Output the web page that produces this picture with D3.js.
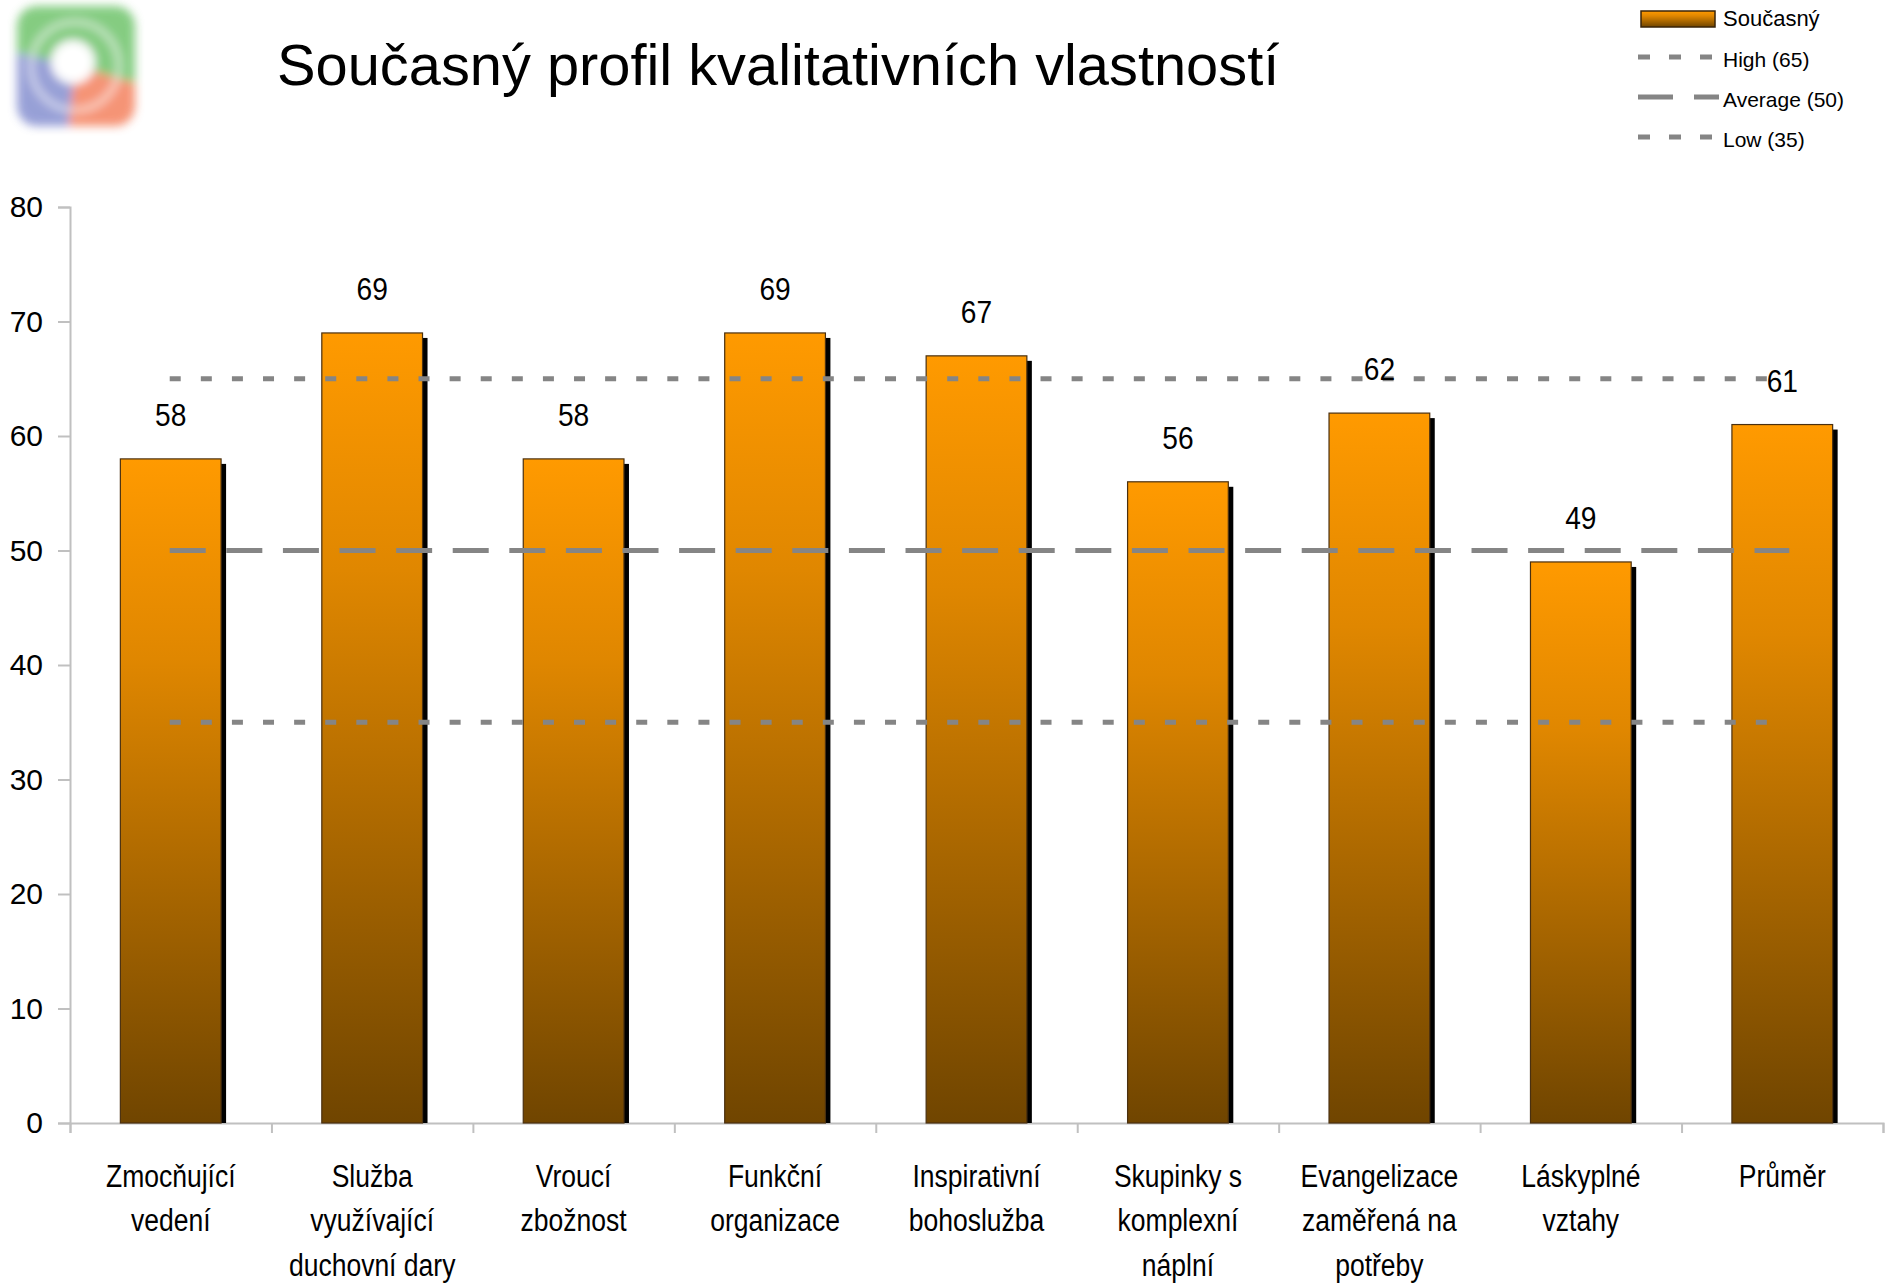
<!DOCTYPE html>
<html>
<head>
<meta charset="utf-8">
<script src="https://cdn.jsdelivr.net/npm/d3@7"></script>
<style>
  body { margin: 0; background: #fff; }
  svg { display: block; }
</style>
</head>
<body>
<div id="chart"></div>
<script>
// chart data
const categories = [
  ['Zmocňující', 'vedení'],
  ['Služba', 'využívající', 'duchovní dary'],
  ['Vroucí', 'zbožnost'],
  ['Funkční', 'organizace'],
  ['Inspirativní', 'bohoslužba'],
  ['Skupinky s', 'komplexní', 'náplní'],
  ['Evangelizace', 'zaměřená na', 'potřeby'],
  ['Láskyplné', 'vztahy'],
  ['Průměr']
];
const values = [58, 69, 58, 69, 67, 56, 62, 49, 61];
const refLines = [
  { name: 'High (65)', value: 65, dash: '11,20.1', extend: -6 },
  { name: 'Average (50)', value: 50, dash: '36,20.6', extend: 7 },
  { name: 'Low (35)', value: 35, dash: '11,20.1', extend: -6 }
];
const yTicks = [0, 10, 20, 30, 40, 50, 60, 70, 80];
const seriesName = 'Současný';
const title = 'Současný profil kvalitativních vlastností';

const width = 1889, height = 1283;
const margin = { left: 70, right: 6, top: 207, bottom: 160 };
const font = '"Liberation Sans", Arial, sans-serif';
const squeeze = 0.855; // reference font is narrower than Liberation Sans

const svg = d3.select('#chart').append('svg')
  .attr('width', width)
  .attr('height', height);

const defs = svg.append('defs');

const grad = defs.append('linearGradient')
  .attr('id', 'barGrad')
  .attr('x1', 0).attr('y1', 0).attr('x2', 0).attr('y2', 1);
grad.append('stop').attr('offset', '0%').attr('stop-color', '#FF9A00');
grad.append('stop').attr('offset', '30%').attr('stop-color', '#E08700');
grad.append('stop').attr('offset', '100%').attr('stop-color', '#704500');

defs.append('filter').attr('id', 'logoBlur')
  .attr('x', '-30%').attr('y', '-30%').attr('width', '160%').attr('height', '160%')
  .append('feGaussianBlur').attr('stdDeviation', 5);

defs.append('clipPath').attr('id', 'logoClip')
  .append('rect')
  .attr('x', -58).attr('y', -60).attr('width', 118).attr('height', 120)
  .attr('rx', 20);

// logo (blurry swirl); clip first, then blur the clipped shape
const logo = svg.append('g')
  .attr('transform', 'translate(75,66)')
  .attr('filter', 'url(#logoBlur)')
  .attr('opacity', 0.85);
const logoInner = logo.append('g').attr('clip-path', 'url(#logoClip)');
logoInner.append('rect')
  .attr('x', -62).attr('y', -64).attr('width', 126).attr('height', 128)
  .attr('fill', '#e9ecf2');
const ringArc = d3.arc().innerRadius(14).outerRadius(80);
const logoParts = [
  { a0: -1.35, a1: 1.85, color: '#6fc46c' },
  { a0: 1.85, a1: 3.25, color: '#f4825e' },
  { a0: 3.25, a1: 4.93, color: '#8690d0' }
];
logoInner.selectAll('path.seg')
  .data(logoParts)
  .enter()
  .append('path')
  .attr('class', 'seg')
  .attr('d', d => ringArc({ startAngle: d.a0, endAngle: d.a1 }))
  .attr('fill', d => d.color);
logoInner.append('circle').attr('cx', -2).attr('cy', -4).attr('r', 22).attr('fill', '#ffffff');
logoInner.append('circle').attr('r', 44).attr('fill', 'none')
  .attr('stroke', '#ffffff').attr('stroke-width', 5).attr('opacity', 0.6);

// title
svg.append('text')
  .attr('x', 277)
  .attr('y', 85)
  .attr('font-family', font)
  .attr('font-size', 57.8)
  .attr('fill', '#000')
  .text(title);

// scales
const x = d3.scaleBand()
  .domain(d3.range(values.length))
  .range([margin.left, width - margin.right])
  .paddingInner(0.5)
  .paddingOuter(0.25);

const y = d3.scaleLinear()
  .domain([0, 80])
  .range([height - margin.bottom, margin.top]);

const xEdge = d3.scaleLinear()
  .domain([0, values.length])
  .range([margin.left, width - margin.right]);

// y axis
const yAxis = svg.append('g')
  .attr('transform', `translate(${margin.left},0)`)
  .call(d3.axisLeft(y).tickValues(yTicks).tickSize(12).tickPadding(15));
yAxis.select('.domain').attr('stroke', '#c0c0c0').attr('stroke-width', 2);
yAxis.selectAll('.tick line').attr('stroke', '#c0c0c0').attr('stroke-width', 2);
yAxis.selectAll('.tick text')
  .attr('font-family', font)
  .attr('font-size', 30)
  .attr('fill', '#000');

// x axis (ticks at band edges)
const xAxis = svg.append('g')
  .attr('transform', `translate(0,${y(0)})`)
  .call(d3.axisBottom(xEdge).ticks(values.length).tickSize(10).tickFormat(''));
xAxis.select('.domain').attr('stroke', '#c0c0c0').attr('stroke-width', 2);
xAxis.selectAll('.tick line').attr('stroke', '#c0c0c0').attr('stroke-width', 2);

// category labels
const catLabels = svg.append('g')
  .selectAll('g')
  .data(categories)
  .enter()
  .append('g')
  .attr('transform', (d, i) => `translate(${x(i) + x.bandwidth() / 2},1187) scale(${squeeze},1)`)
  .append('text')
  .attr('text-anchor', 'middle')
  .attr('font-family', font)
  .attr('font-size', 31)
  .attr('fill', '#000');
catLabels.selectAll('tspan')
  .data(d => d)
  .enter()
  .append('tspan')
  .attr('x', 0)
  .attr('dy', (d, i) => i === 0 ? 0 : 44.5)
  .text(d => d);

// bars with shadow
const bars = svg.append('g');
bars.selectAll('.shadow')
  .data(values)
  .enter()
  .append('rect')
  .attr('class', 'shadow')
  .attr('x', (d, i) => x(i) + 5)
  .attr('y', d => y(d) + 5)
  .attr('width', x.bandwidth())
  .attr('height', d => y(0) - y(d) - 5)
  .attr('fill', '#000');

bars.selectAll('.bar')
  .data(values)
  .enter()
  .append('rect')
  .attr('class', 'bar')
  .attr('x', (d, i) => x(i))
  .attr('y', d => y(d))
  .attr('width', x.bandwidth())
  .attr('height', d => y(0) - y(d))
  .attr('fill', 'url(#barGrad)')
  .attr('stroke', '#4a3010')
  .attr('stroke-width', 1.2);

// reference lines, from first to last category centre
const x0 = x(0) + x.bandwidth() / 2 - 1;
const x1 = x(values.length - 1) + x.bandwidth() / 2;
svg.append('g')
  .selectAll('line')
  .data(refLines)
  .enter()
  .append('line')
  .attr('x1', x0)
  .attr('x2', d => x1 + d.extend)
  .attr('y1', d => y(d.value))
  .attr('y2', d => y(d.value))
  .attr('stroke', '#858585')
  .attr('stroke-width', 5)
  .attr('stroke-dasharray', d => d.dash);

// value labels
svg.append('g')
  .selectAll('g')
  .data(values)
  .enter()
  .append('g')
  .attr('transform', (d, i) => `translate(${x(i) + x.bandwidth() / 2},${y(d) - 33}) scale(0.88,1)`)
  .append('text')
  .attr('text-anchor', 'middle')
  .attr('font-family', font)
  .attr('font-size', 32)
  .attr('fill', '#000')
  .text(d => d);

// legend
const legend = svg.append('g').attr('font-family', font).attr('font-size', 21);
legend.append('rect')
  .attr('x', 1641).attr('y', 11).attr('width', 74).attr('height', 16)
  .attr('fill', 'url(#barGrad)')
  .attr('stroke', '#3a2508').attr('stroke-width', 1.5);
legend.append('text')
  .attr('x', 1723).attr('y', 26)
  .attr('font-size', 22)
  .text(seriesName);

const legRows = legend.selectAll('.ref')
  .data(refLines)
  .enter()
  .append('g')
  .attr('class', 'ref')
  .attr('transform', (d, i) => `translate(0,${57 + i * 40})`);
legRows.append('line')
  .attr('x1', 1638).attr('x2', 1719)
  .attr('y1', 0).attr('y2', 0)
  .attr('stroke', '#858585')
  .attr('stroke-width', 5)
  .attr('stroke-dasharray', d => d.value === 50 ? '35,21' : '12,19');
legRows.append('text')
  .attr('x', 1723).attr('y', 10)
  .text(d => d.name);
</script>
</body>
</html>
